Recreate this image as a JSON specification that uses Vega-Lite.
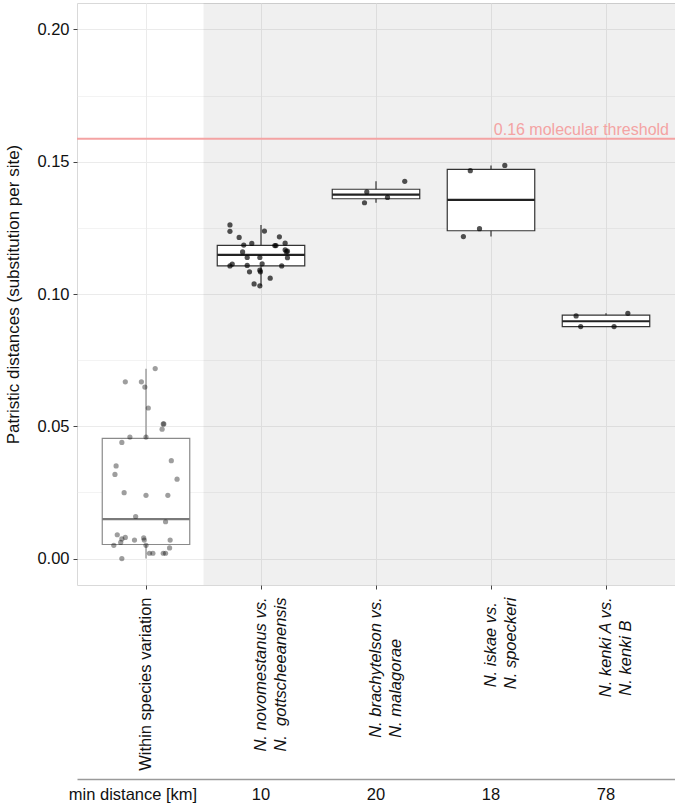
{
  "$schema": "https://vega.github.io/schema/vega-lite/v6.json",
  "autosize": "none",
  "width": 598,
  "height": 582,
  "padding": {"left": 77, "top": 3, "right": 0, "bottom": 222},
  "background": "white",
  "config": {
    "font": "Liberation Sans",
    "view": {"stroke": "#d9d9d9", "strokeWidth": 1}
  },
  "datasets": {
    "threshold": [{"threshold": 0.1587, "label": "0.16 molecular threshold"}],
    "boxes": [
      {"group": "Within species variation", "lower": 0.0, "q1": 0.0053, "median": 0.0149, "q3": 0.0454, "upper": 0.0717},
      {"group": "N. novomestanus vs. N. gottscheeanensis", "lower": 0.1031, "q1": 0.1106, "median": 0.1148, "q3": 0.1184, "upper": 0.1261},
      {"group": "N. brachytelson vs. N. malagorae", "lower": 0.1345, "q1": 0.136, "median": 0.1376, "q3": 0.1396, "upper": 0.1426},
      {"group": "N. iskae vs. N. spoeckeri", "lower": 0.1217, "q1": 0.1239, "median": 0.1356, "q3": 0.1471, "upper": 0.1486},
      {"group": "N. kenki A vs. N. kenki B", "lower": 0.0877, "q1": 0.0877, "median": 0.0897, "q3": 0.092, "upper": 0.0927}
    ],
    "points": [
      {"group": "Within species variation", "value": 0.0668, "jitter": -0.18},
      {"group": "Within species variation", "value": 0.0668, "jitter": -0.04},
      {"group": "Within species variation", "value": 0.0648, "jitter": -0.01},
      {"group": "Within species variation", "value": 0.0718, "jitter": 0.08},
      {"group": "Within species variation", "value": 0.0569, "jitter": 0.02},
      {"group": "Within species variation", "value": 0.0509, "jitter": 0.15},
      {"group": "Within species variation", "value": 0.0509, "jitter": 0.155},
      {"group": "Within species variation", "value": 0.0489, "jitter": 0.14},
      {"group": "Within species variation", "value": 0.0459, "jitter": -0.14},
      {"group": "Within species variation", "value": 0.0459, "jitter": 0.0},
      {"group": "Within species variation", "value": 0.0439, "jitter": -0.21},
      {"group": "Within species variation", "value": 0.037, "jitter": 0.22},
      {"group": "Within species variation", "value": 0.035, "jitter": -0.26},
      {"group": "Within species variation", "value": 0.0318, "jitter": -0.27},
      {"group": "Within species variation", "value": 0.03, "jitter": 0.27},
      {"group": "Within species variation", "value": 0.0249, "jitter": -0.19},
      {"group": "Within species variation", "value": 0.0239, "jitter": 0.0},
      {"group": "Within species variation", "value": 0.0239, "jitter": 0.19},
      {"group": "Within species variation", "value": 0.0159, "jitter": -0.09},
      {"group": "Within species variation", "value": 0.0139, "jitter": 0.17},
      {"group": "Within species variation", "value": 0.009, "jitter": -0.25},
      {"group": "Within species variation", "value": 0.008, "jitter": -0.18},
      {"group": "Within species variation", "value": 0.0074, "jitter": -0.21},
      {"group": "Within species variation", "value": 0.0061, "jitter": -0.22},
      {"group": "Within species variation", "value": 0.005, "jitter": -0.28},
      {"group": "Within species variation", "value": 0.007, "jitter": -0.1},
      {"group": "Within species variation", "value": 0.0078, "jitter": -0.02},
      {"group": "Within species variation", "value": 0.007, "jitter": -0.015},
      {"group": "Within species variation", "value": 0.005, "jitter": 0.0},
      {"group": "Within species variation", "value": 0.007, "jitter": 0.21},
      {"group": "Within species variation", "value": 0.004, "jitter": 0.205},
      {"group": "Within species variation", "value": 0.002, "jitter": 0.03},
      {"group": "Within species variation", "value": 0.002, "jitter": 0.06},
      {"group": "Within species variation", "value": 0.002, "jitter": 0.15},
      {"group": "Within species variation", "value": 0.002, "jitter": 0.17},
      {"group": "Within species variation", "value": 0.0, "jitter": -0.21},
      {"group": "N. novomestanus vs. N. gottscheeanensis", "value": 0.1261, "jitter": -0.27},
      {"group": "N. novomestanus vs. N. gottscheeanensis", "value": 0.1237, "jitter": -0.27},
      {"group": "N. novomestanus vs. N. gottscheeanensis", "value": 0.1238, "jitter": 0.03},
      {"group": "N. novomestanus vs. N. gottscheeanensis", "value": 0.1214, "jitter": -0.19},
      {"group": "N. novomestanus vs. N. gottscheeanensis", "value": 0.1216, "jitter": 0.16},
      {"group": "N. novomestanus vs. N. gottscheeanensis", "value": 0.1185, "jitter": -0.15},
      {"group": "N. novomestanus vs. N. gottscheeanensis", "value": 0.1191, "jitter": -0.08},
      {"group": "N. novomestanus vs. N. gottscheeanensis", "value": 0.1183, "jitter": 0.12},
      {"group": "N. novomestanus vs. N. gottscheeanensis", "value": 0.1183, "jitter": 0.13},
      {"group": "N. novomestanus vs. N. gottscheeanensis", "value": 0.1192, "jitter": 0.21},
      {"group": "N. novomestanus vs. N. gottscheeanensis", "value": 0.1159, "jitter": -0.16},
      {"group": "N. novomestanus vs. N. gottscheeanensis", "value": 0.1162, "jitter": 0.23},
      {"group": "N. novomestanus vs. N. gottscheeanensis", "value": 0.1167, "jitter": 0.21},
      {"group": "N. novomestanus vs. N. gottscheeanensis", "value": 0.116, "jitter": 0.22},
      {"group": "N. novomestanus vs. N. gottscheeanensis", "value": 0.1138, "jitter": -0.12},
      {"group": "N. novomestanus vs. N. gottscheeanensis", "value": 0.1138, "jitter": -0.01},
      {"group": "N. novomestanus vs. N. gottscheeanensis", "value": 0.1137, "jitter": 0.23},
      {"group": "N. novomestanus vs. N. gottscheeanensis", "value": 0.1106, "jitter": -0.27},
      {"group": "N. novomestanus vs. N. gottscheeanensis", "value": 0.1113, "jitter": -0.25},
      {"group": "N. novomestanus vs. N. gottscheeanensis", "value": 0.1108, "jitter": -0.12},
      {"group": "N. novomestanus vs. N. gottscheeanensis", "value": 0.1114, "jitter": 0.01},
      {"group": "N. novomestanus vs. N. gottscheeanensis", "value": 0.1106, "jitter": 0.18},
      {"group": "N. novomestanus vs. N. gottscheeanensis", "value": 0.1084, "jitter": -0.1},
      {"group": "N. novomestanus vs. N. gottscheeanensis", "value": 0.109, "jitter": -0.01},
      {"group": "N. novomestanus vs. N. gottscheeanensis", "value": 0.1084, "jitter": -0.005},
      {"group": "N. novomestanus vs. N. gottscheeanensis", "value": 0.106, "jitter": 0.08},
      {"group": "N. novomestanus vs. N. gottscheeanensis", "value": 0.1038, "jitter": -0.06},
      {"group": "N. novomestanus vs. N. gottscheeanensis", "value": 0.1031, "jitter": -0.01},
      {"group": "N. brachytelson vs. N. malagorae", "value": 0.1426, "jitter": 0.25},
      {"group": "N. brachytelson vs. N. malagorae", "value": 0.1386, "jitter": -0.08},
      {"group": "N. brachytelson vs. N. malagorae", "value": 0.1365, "jitter": 0.1},
      {"group": "N. brachytelson vs. N. malagorae", "value": 0.1345, "jitter": -0.1},
      {"group": "N. iskae vs. N. spoeckeri", "value": 0.1486, "jitter": 0.12},
      {"group": "N. iskae vs. N. spoeckeri", "value": 0.1466, "jitter": -0.18},
      {"group": "N. iskae vs. N. spoeckeri", "value": 0.1247, "jitter": -0.1},
      {"group": "N. iskae vs. N. spoeckeri", "value": 0.1217, "jitter": -0.24},
      {"group": "N. kenki A vs. N. kenki B", "value": 0.0927, "jitter": 0.19},
      {"group": "N. kenki A vs. N. kenki B", "value": 0.0917, "jitter": -0.26},
      {"group": "N. kenki A vs. N. kenki B", "value": 0.0877, "jitter": -0.22},
      {"group": "N. kenki A vs. N. kenki B", "value": 0.0877, "jitter": 0.07}
    ]
  },
  "resolve": {"axis": {"x": "independent"}},
  "layer": [
    {
      "data": {"name": "threshold"},
      "mark": {"type": "rect", "fill": "#000000", "opacity": 0.06},
      "encoding": {
        "x": {"datum": "N. novomestanus vs. N. gottscheeanensis", "type": "nominal", "bandPosition": 0, "axis": null},
        "x2": {"value": "width"}
      }
    },
    {
      "data": {"name": "boxes"},
      "mark": {"type": "bar", "fill": "white", "strokeWidth": 1.2, "width": 87.5},
      "encoding": {
        "x": {
          "field": "group", "type": "nominal", "sort": null,
          "scale": {"domain": ["Within species variation", "N. novomestanus vs. N. gottscheeanensis", "N. brachytelson vs. N. malagorae", "N. iskae vs. N. spoeckeri", "N. kenki A vs. N. kenki B"], "paddingInner": 0, "paddingOuter": 0.1},
          "axis": {
            "title": null, "orient": "bottom", "domain": false, "grid": true, "gridColor": "#ebebeb", "gridWidth": 1, "bandPosition": 0.5,
            "ticks": true, "tickSize": 4, "tickColor": "#444", "labelAngle": -90, "labelAlign": "right", "labelBaseline": "middle",
            "labelPadding": 8, "labelFontSize": 16.5, "labelColor": "#111", "labelLimit": 0, "labelLineHeight": 20, "labelOverlap": false, "labelBound": false,
            "labelFontStyle": {"condition": {"test": "datum.value == 'Within species variation'", "value": "normal"}, "value": "italic"},
            "labelExpr": "datum.value == 'Within species variation' ? 'Within species variation' : datum.value == 'N. novomestanus vs. N. gottscheeanensis' ? ['N. novomestanus vs.', 'N.\u00a0 gottscheeanensis'] : datum.value == 'N. brachytelson vs. N. malagorae' ? ['N. brachytelson vs.', 'N. malagorae\u00a0\u00a0\u00a0\u00a0\u00a0\u00a0\u00a0\u00a0\u00a0\u200b'] : datum.value == 'N. iskae vs. N. spoeckeri' ? ['N. iskae vs.\u00a0\u200b', 'N. spoeckeri'] : ['N. kenki A vs.', 'N. kenki B\u00a0\u00a0\u00a0\u00a0\u00a0\u200b']"
          }
        },
        "y": {
          "field": "q1", "type": "quantitative",
          "scale": {"domain": [-0.01, 0.21], "nice": false, "zero": false},
          "axis": {
            "title": "Patristic distances (substitution per site)", "titleFontSize": 17, "titleFontWeight": "normal", "titleColor": "#111", "titlePadding": 14,
            "values": [0, 0.025, 0.05, 0.075, 0.1, 0.125, 0.15, 0.175, 0.2], "format": ".2f",
            "labelExpr": "round(datum.value * 1000) % 50 != 0 ? '' : datum.label",
            "labelFontSize": 16.5, "labelColor": "#111", "labelPadding": 4,
            "domain": false, "grid": true, "gridColor": "#ebebeb",
            "gridWidth": {"condition": {"test": "round(datum.value * 1000) % 50 != 0", "value": 0.6}, "value": 1},
            "tickSize": 4, "tickColor": "#444",
            "tickOpacity": {"condition": {"test": "round(datum.value * 1000) % 50 != 0", "value": 0}, "value": 1}
          }
        },
        "y2": {"field": "q3"},
        "stroke": {"condition": {"test": "datum.group == 'Within species variation'", "value": "#8a8a8a"}, "value": "#333333"}
      }
    },
    {
      "data": {"name": "boxes"},
      "mark": {"type": "rule", "strokeWidth": 1.2},
      "encoding": {
        "x": {
          "field": "group", "type": "nominal",
          "axis": {
            "title": null, "orient": "bottom", "offset": 194, "domain": true, "domainColor": "#9a9a9a", "domainWidth": 1.5,
            "ticks": false, "grid": false, "labelAngle": 0, "labelAlign": "center", "labelBaseline": "top", "labelPadding": 7,
            "labelFontSize": 16.5, "labelColor": "#111", "labelOverlap": false, "labelBound": false, "labelLimit": 0,
            "labelOffset": {"condition": {"test": "datum.value == 'Within species variation'", "value": -13}, "value": 0},
            "labelExpr": "datum.value == 'Within species variation' ? 'min distance [km]' : datum.value == 'N. novomestanus vs. N. gottscheeanensis' ? '10' : datum.value == 'N. brachytelson vs. N. malagorae' ? '20' : datum.value == 'N. iskae vs. N. spoeckeri' ? '18' : '78'"
          }
        },
        "y": {"field": "lower", "type": "quantitative"},
        "y2": {"field": "q1"},
        "color": {"condition": {"test": "datum.group == 'Within species variation'", "value": "#8a8a8a"}, "value": "#333333"}
      }
    },
    {
      "data": {"name": "boxes"},
      "mark": {"type": "rule", "strokeWidth": 1.2},
      "encoding": {
        "x": {"field": "group", "type": "nominal", "axis": null},
        "y": {"field": "q3", "type": "quantitative"},
        "y2": {"field": "upper"},
        "color": {"condition": {"test": "datum.group == 'Within species variation'", "value": "#8a8a8a"}, "value": "#333333"}
      }
    },
    {
      "data": {"name": "boxes"},
      "mark": {"type": "tick", "thickness": 2.2, "size": 87.5, "opacity": 1},
      "encoding": {
        "x": {"field": "group", "type": "nominal", "axis": null},
        "y": {"field": "median", "type": "quantitative"},
        "color": {"condition": {"test": "datum.group == 'Within species variation'", "value": "#7a7a7a"}, "value": "#222222"}
      }
    },
    {
      "data": {"name": "points"},
      "mark": {"type": "circle", "size": 27, "color": "#000000"},
      "encoding": {
        "x": {"field": "group", "type": "nominal", "axis": null},
        "xOffset": {"field": "jitter", "type": "quantitative", "scale": {"domain": [-0.5, 0.5]}},
        "y": {"field": "value", "type": "quantitative"},
        "opacity": {"condition": {"test": "datum.group == 'Within species variation'", "value": 0.38}, "value": 0.68}
      }
    },
    {
      "data": {"name": "threshold"},
      "mark": {"type": "rule", "color": "#f4a3a3", "strokeWidth": 2},
      "encoding": {
        "y": {"field": "threshold", "type": "quantitative"}
      }
    },
    {
      "data": {"name": "threshold"},
      "mark": {"type": "text", "align": "right", "baseline": "bottom", "dx": -6, "dy": -1, "fontSize": 16, "color": "#f4a3a3"},
      "encoding": {
        "x": {"value": "width"},
        "y": {"field": "threshold", "type": "quantitative"},
        "text": {"field": "label"}
      }
    }
  ]
}
